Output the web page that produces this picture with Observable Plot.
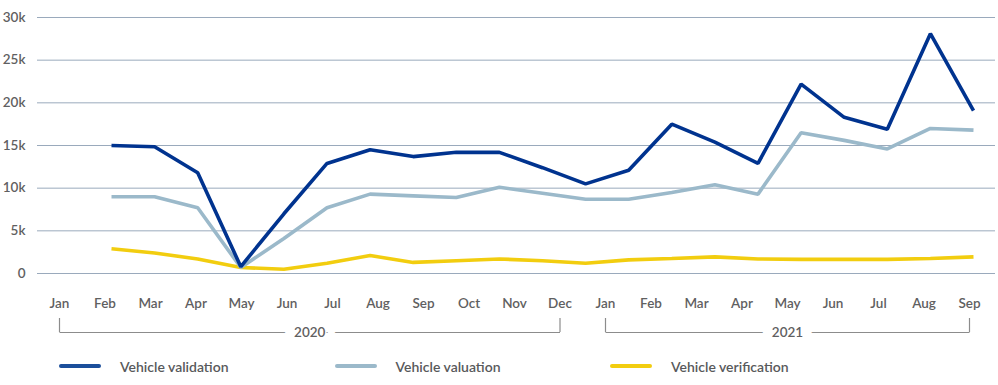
<!DOCTYPE html>
<html>
<head>
<meta charset="utf-8">
<script src="https://cdn.jsdelivr.net/npm/d3@7"></script>
<script src="https://cdn.jsdelivr.net/npm/@observablehq/plot@0.6"></script>
<style>
  html, body { margin: 0; padding: 0; background: #fff; }
  #wrap { position: relative; width: 998px; height: 385px; font-family: Lato, "Open Sans", sans-serif; }
  #main { position: absolute; left: 0; top: 0; }
  #axis { position: absolute; left: 0; top: 290px; }
  #legend { position: absolute; left: 59px; top: 356px; display: flex; }
  .item { width: 275.5px; display: flex; align-items: center; height: 20px; }
  .sw { width: 42px; height: 4px; border-radius: 2px; margin-right: 19px; }
  .lb { font-size: 14px; font-weight: 600; color: #58595b; }
</style>
</head>
<body>
<div id="wrap">
  <div id="main"></div>
  <div id="axis"></div>
  <div id="legend"></div>
</div>
<script>
// Month labels (Jan 2020 .. Sep 2021)
const monthLabels = ["Jan","Feb","Mar","Apr","May","Jun","Jul","Aug","Sep","Oct","Nov","Dec",
                     "Jan","Feb","Mar","Apr","May","Jun","Jul","Aug","Sep"];
const years = [
  {label: "2020", start: 0, end: 11},
  {label: "2021", start: 12, end: 20}
];
const yTicks = [0, 5000, 10000, 15000, 20000, 25000, 30000];

// Series values (21 monthly points)
const validation   = [15000,14850,11800,800,7000,12900,14500,13700,14200,14200,12400,10500,12100,17500,15400,12900,22200,18300,16900,28100,19100];
const valuation    = [9000,9000,7700,700,4100,7700,9300,9100,8900,10100,9400,8700,8700,9500,10400,9300,16500,15600,14600,17000,16800];
const verification = [2900,2400,1700,700,500,1200,2100,1300,1500,1700,1500,1200,1600,1750,1950,1700,1650,1650,1650,1750,1950];

const seriesNames = ["Vehicle validation", "Vehicle valuation", "Vehicle verification"];
const seriesColors = ["#00338f", "#9bb9ca", "#f2cd0f"];
const swatchColors = ["#1b4f9b", "#9bb9ca", "#f2cd0f"];
const seriesValues = [validation, valuation, verification];

const rows = [];
seriesNames.forEach((name, s) => {
  seriesValues[s].forEach((v, i) => rows.push({series: name, i, value: v}));
});

const main = Plot.plot({
  width: 998,
  height: 290,
  marginTop: 17,
  marginBottom: 17,
  marginLeft: 37,
  marginRight: 3,
  style: {fontFamily: "Lato, 'Open Sans', sans-serif", fontSize: "13.5px", color: "#5f6061", background: "white"},
  x: {domain: [0, 20], range: [111, 973], axis: null},
  y: {domain: [0, 30000], axis: null},
  color: {domain: seriesNames, range: seriesColors},
  marks: [
    Plot.ruleY(yTicks, {stroke: "#9aaabc", strokeWidth: 1}),
    Plot.axisY({ticks: yTicks, tickSize: 0, tickPadding: 12, fontWeight: 600, label: null,
      tickFormat: d => d === 0 ? "0" : (d / 1000) + "k"}),
    ...seriesNames.slice().reverse().map(name =>
      Plot.line(rows.filter(r => r.series === name), {
        x: "i", y: "value", stroke: "series", strokeWidth: 3.6,
        strokeLinejoin: "miter", strokeLinecap: "butt"
      })
    )
  ]
});
document.getElementById("main").appendChild(main);

const monthRows = monthLabels.map((m, i) => ({i, m}));
const axis = Plot.plot({
  width: 998,
  height: 62,
  marginTop: 28,
  marginBottom: 20,
  marginLeft: 59,
  marginRight: 29,
  style: {fontFamily: "Lato, 'Open Sans', sans-serif", fontSize: "13.5px", color: "#5f6061", background: "transparent", overflow: "visible"},
  x: {domain: [0, 20], range: [59, 969], axis: null},
  y: {domain: [0, 1], axis: null},
  marks: [
    Plot.text(monthRows, {x: "i", y: 1, text: "m", dy: -15, fill: "#5f6061", fontWeight: 600}),
    Plot.ruleX(years.flatMap(y => [y.start, y.end]), {y1: 0, y2: 1, stroke: "#8c8c8c", strokeWidth: 1.2}),
    Plot.link(years, {x1: "start", x2: "end", y1: 0, y2: 0, stroke: "#8c8c8c", strokeWidth: 1.2}),
    Plot.text(years, {x: d => (d.start + d.end) / 2, y: 0, text: "label",
      fill: "#5f6061", fontWeight: 600, stroke: "white", strokeWidth: 20, paintOrder: "stroke"})
  ]
});
document.getElementById("axis").appendChild(axis);

const legend = document.getElementById("legend");
seriesNames.forEach((name, s) => {
  const it = document.createElement("div");
  it.className = "item";
  const sw = document.createElement("div");
  sw.className = "sw";
  sw.style.background = swatchColors[s];
  const lb = document.createElement("span");
  lb.className = "lb";
  lb.textContent = name;
  it.appendChild(sw);
  it.appendChild(lb);
  legend.appendChild(it);
});
</script>
</body>
</html>
